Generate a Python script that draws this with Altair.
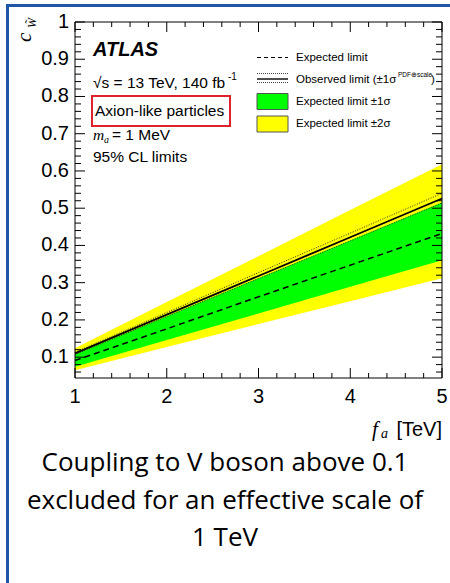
import altair as alt
import numpy as np
import pandas as pd

# Limits on the ALP coupling c_W~ as a function of the effective scale f_a [TeV]
fa = [1, 2, 3, 4, 5]
expected = [0.091, 0.176, 0.262, 0.347, 0.432]
observed = [0.110, 0.214, 0.318, 0.422, 0.526]
observed_up = [0.113, 0.220, 0.327, 0.433, 0.540]
observed_dn = [0.107, 0.209, 0.311, 0.412, 0.514]
sigma1_lo = [0.074, 0.146, 0.217, 0.289, 0.360]
sigma1_hi = [0.108, 0.210, 0.312, 0.413, 0.515]
sigma2_lo = [0.065, 0.127, 0.189, 0.250, 0.312]
sigma2_hi = [0.124, 0.248, 0.371, 0.495, 0.618]

x_labels = [1, 2, 3, 4, 5]
y_labels = [0.1, 0.2, 0.3, 0.4, 0.5, 0.6, 0.7, 0.8, 0.9, 1.0]
y_label_text = ["0.1", "0.2", "0.3", "0.4", "0.5", "0.6", "0.7", "0.8", "0.9", "1"]

caption = ["Coupling to V boson above 0.1",
           "excluded for an effective scale of",
           "1 TeV"]

W, H = 367, 356
X0, Y0 = 75, 22  # plot origin on the page
HELV = "Liberation Sans"
TIMES = "Liberation Serif"
BLUE = "#1f56a5"

df = pd.DataFrame({
    "fa": fa, "exp": expected, "obs": observed,
    "obs_up": observed_up, "obs_dn": observed_dn,
    "s1lo": sigma1_lo, "s1hi": sigma1_hi,
    "s2lo": sigma2_lo, "s2hi": sigma2_hi,
})
one = pd.DataFrame({"k": [0]})  # single row for decorations drawn once

xs = alt.Scale(domain=[1, 5], nice=False, zero=False)
ys = alt.Scale(domain=[0.044, 1], nice=False, zero=False)


def XQ(field):
    return alt.X(field, scale=xs, axis=None)


def YQ(field):
    return alt.Y(field, scale=ys, axis=None)


base = alt.Chart(df)
band2 = base.mark_area(color="#ffff00").encode(x=XQ("fa:Q"), y=YQ("s2lo:Q"), y2="s2hi:Q")
band1 = base.mark_area(color="#00ff00").encode(x=XQ("fa:Q"), y=YQ("s1lo:Q"), y2="s1hi:Q")
exp_line = base.mark_line(color="black", strokeWidth=1.5, strokeDash=[6, 4]).encode(
    x=XQ("fa:Q"), y=YQ("exp:Q"))
obs_line = base.mark_line(color="black", strokeWidth=1.8).encode(
    x=XQ("fa:Q"), y=YQ("obs:Q"))
obs_up_line = base.mark_line(color="#333333", strokeWidth=1, strokeDash=[1, 1.5]).encode(
    x=XQ("fa:Q"), y=YQ("obs_up:Q"))
obs_dn_line = base.mark_line(color="#333333", strokeWidth=1, strokeDash=[1, 1.5]).encode(
    x=XQ("fa:Q"), y=YQ("obs_dn:Q"))

# Inward-pointing ticks on all four sides of the frame
y_major = pd.DataFrame({"v": y_labels, "t": y_label_text})
y_minor = pd.DataFrame({"v": [round(v, 2) for v in np.arange(0.06, 1.0, 0.02)
                              if abs(v * 10 - round(v * 10)) > 1e-6]})
x_major = pd.DataFrame({"v": x_labels, "t": [str(v) for v in x_labels]})
x_minor = pd.DataFrame({"v": [round(v, 1) for v in np.arange(1.2, 5.0, 0.2)
                              if abs(v - round(v)) > 1e-6]})


def yticks(d, length):
    left = alt.Chart(d).mark_rule(color="black", strokeWidth=1).encode(
        y=YQ("v:Q"), x=alt.value(0), x2=alt.value(length))
    right = alt.Chart(d).mark_rule(color="black", strokeWidth=1).encode(
        y=YQ("v:Q"), x=alt.value(W - length), x2=alt.value(W))
    return left + right


def xticks(d, length):
    bottom = alt.Chart(d).mark_rule(color="black", strokeWidth=1).encode(
        x=XQ("v:Q"), y=alt.value(H - length), y2=alt.value(H))
    top = alt.Chart(d).mark_rule(color="black", strokeWidth=1).encode(
        x=XQ("v:Q"), y=alt.value(0), y2=alt.value(length))
    return bottom + top


# Tick labels placed through the same scales
y_tick_labels = alt.Chart(y_major).mark_text(
    font=HELV, fontSize=20, align="right", baseline="middle", color="black"
).encode(y=YQ("v:Q"), x=alt.value(-6), text="t:N")
x_tick_labels = alt.Chart(x_major).mark_text(
    font=HELV, fontSize=20, align="center", baseline="middle", color="black"
).encode(x=XQ("v:Q"), y=alt.value(H + 19), text="t:N")

frame = alt.Chart(one).mark_rect(fill=None, stroke="black", strokeWidth=1).encode(
    x=alt.value(0), x2=alt.value(W), y=alt.value(0), y2=alt.value(H))


def txt(s, x, y, size=15.5, font=HELV, style="normal", weight="normal",
        align="left", angle=0, color="black", baseline="middle"):
    props = dict(text=s, font=font, fontSize=size, fontStyle=style,
                 fontWeight=weight, align=align, baseline=baseline, color=color)
    if angle:
        props["angle"] = angle
    return alt.Chart(one).mark_text(**props).encode(x=alt.value(x), y=alt.value(y))


def hline(x1, x2, y, dash=None, width=1.2, color="black"):
    props = dict(color=color, strokeWidth=width)
    if dash:
        props["strokeDash"] = dash
    return alt.Chart(one).mark_rule(**props).encode(
        x=alt.value(x1), x2=alt.value(x2), y=alt.value(y))


def box(x1, x2, y1, y2, fill, stroke="#555555", width=1):
    return alt.Chart(one).mark_rect(fill=fill, stroke=stroke, strokeWidth=width).encode(
        x=alt.value(x1), x2=alt.value(x2), y=alt.value(y1), y2=alt.value(y2))


# Left-hand annotations
annots = [
    txt("ATLAS", 18, 28, size=20, style="italic", weight="bold"),
    txt("\u221as = 13 TeV, 140 fb", 18, 61),
    txt("-1", 153, 55, size=10),
    box(17, 155, 74, 104, fill=None, stroke="#e0222c", width=2),
    txt("Axion-like particles", 20, 89),
    txt("m", 18, 113, font=TIMES, style="italic", size=15.5),
    txt("a", 29, 118, font=TIMES, style="italic", size=10),
    txt("= 1 MeV", 37, 113),
    txt("95% CL limits", 18, 135),
]

# Legend
LX1, LX2, LT = 182, 213, 221
legend = [
    hline(LX1, LX2, 35.5, dash=[4, 3], width=1.2),
    txt("Expected limit", LT, 35.5, size=11.5),
    hline(LX1, LX2, 51.5, dash=[1, 1], width=1, color="#444444"),
    hline(LX1, LX2, 57, width=1.4),
    hline(LX1, LX2, 60.5, dash=[1, 1], width=1, color="#444444"),
    txt("Observed limit (\u00b11\u03c3", LT, 58, size=11.5),
    txt("PDF\u2295scale", 323, 53, size=6.5),
    txt(")", 356, 58, size=11.5),
    box(LX1, LX2, 71.5, 87.5, fill="#00ff00"),
    txt("Expected limit \u00b11\u03c3", LT, 80, size=11.5),
    box(LX1, LX2, 94, 110, fill="#ffff00"),
    txt("Expected limit \u00b12\u03c3", LT, 102.3, size=11.5),
]

# Axis titles
titles = [
    txt("c", -50, 20, font=TIMES, style="italic", size=21, angle=270),
    txt("W\u0303", -43, 6, font=TIMES, style="italic", size=12, angle=270),
    txt("f", 297, 408, font=TIMES, style="italic", size=21),
    txt("a", 306, 412, font=TIMES, style="italic", size=14),
    txt("[TeV]", W, 408, size=20, align="right"),
]

# Caption below the plot and the panel border
cap = [txt(line, 150, 441 + 37.5 * i, size=26, font="Open Sans", align="center")
       for i, line in enumerate(caption)]
border = [
    alt.Chart(one).mark_rule(color=BLUE, strokeWidth=3).encode(
        x=alt.value(7.5 - X0), y=alt.value(5.5 - Y0), y2=alt.value(583 - Y0)),
    alt.Chart(one).mark_rule(color=BLUE, strokeWidth=3).encode(
        x=alt.value(6 - X0), x2=alt.value(450 - X0), y=alt.value(5.5 - Y0)),
]

layers = [band2, band1, exp_line, obs_dn_line, obs_up_line, obs_line,
          yticks(y_major, 10), yticks(y_minor, 6),
          xticks(x_major, 10), xticks(x_minor, 5), frame,
          y_tick_labels, x_tick_labels]
layers += annots + legend + titles + cap + border

chart = alt.layer(*layers).properties(
    width=W, height=H,
    autosize=alt.AutoSizeParams(type="none"),
    padding={"left": X0, "top": Y0, "right": 450 - X0 - W, "bottom": 583 - Y0 - H},
    background="white",
).configure_view(stroke=None)

chart.save("out.html", embed_options={"renderer": "svg", "actions": False})
